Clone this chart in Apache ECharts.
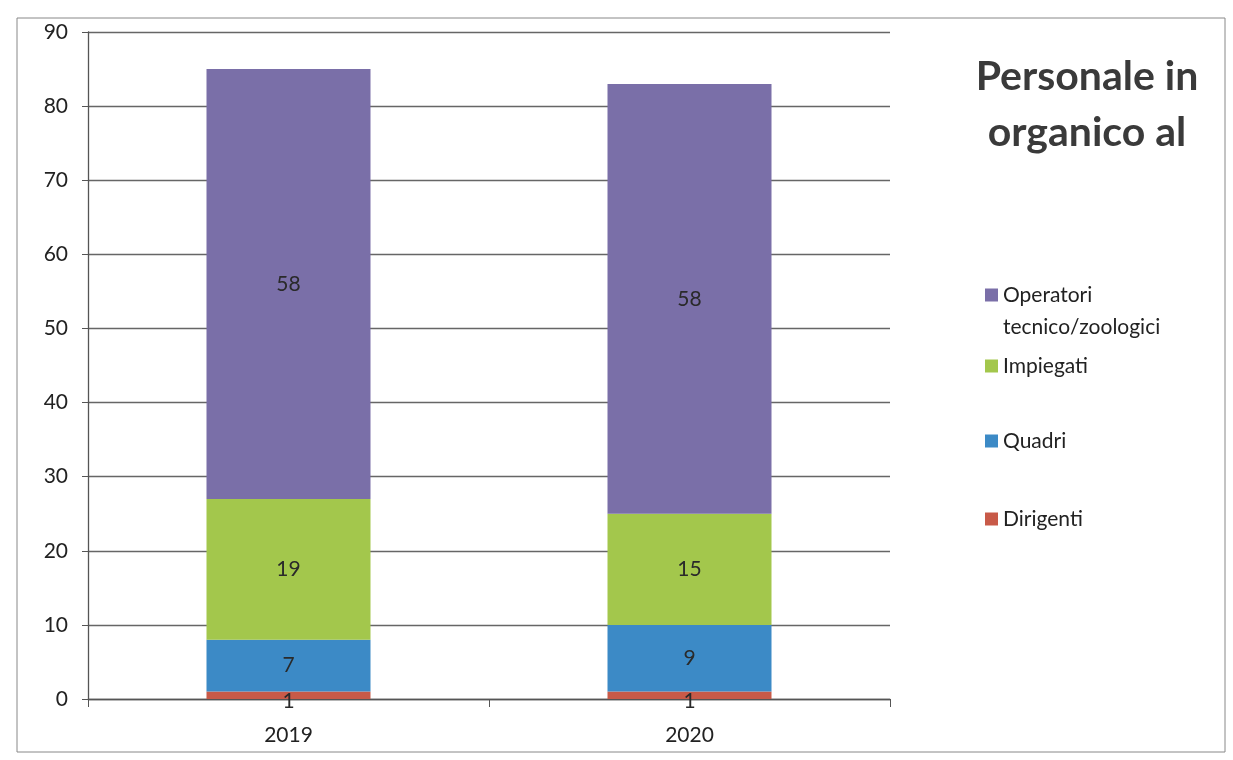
<!DOCTYPE html>
<html>
<head>
<meta charset="utf-8">
<script src="https://cdn.jsdelivr.net/npm/echarts@6/dist/echarts.min.js"></script>
<style>html,body{margin:0;padding:0;background:#fff}#c{width:1233px;height:760px}</style>
</head>
<body>
<div id="c"></div>
<script>
const categories = ['2019', '2020'];
const dirigenti = [1, 1];
const quadri = [7, 9];
const impiegati = [19, 15];
const operatori = [58, 58];
const yTicks = [0, 10, 20, 30, 40, 50, 60, 70, 80, 90];

const FONT = 'Lato, "Open Sans", sans-serif';
const chart = echarts.init(document.getElementById('c'));
const lbl = (extra) => Object.assign({show: true, position: 'inside', color: '#2a2a2a', fontSize: 21, fontFamily: FONT}, extra || {});
const mk = (name, data, color, label) => ({
  name, type: 'bar', stack: 'tot', data, barWidth: 164,
  itemStyle: {color}, label: label || lbl(), emphasis: {disabled: true}
});
const legendItem = (name, top, fmt) => ({
  data: [name], orient: 'vertical', left: 980, top,
  icon: 'rect', itemWidth: 13, itemHeight: 13, itemGap: 0,
  formatter: fmt || '{name}',
  textStyle: {fontSize: 21, color: '#222', fontFamily: FONT, lineHeight: 32}
});
chart.setOption({
  animation: false,
  title: {
    text: 'Personale in\norganico al', left: 1082, top: 44, textAlign: 'center',
    textStyle: {fontSize: 41, fontWeight: 'bold', color: '#3a3a3a', fontFamily: FONT, lineHeight: 56}
  },
  legend: [
    legendItem('Operatori\ntecnico/zoologici', 242, (n) => '\u00a0\n' + n),
    legendItem('Impiegati', 345),
    legendItem('Quadri', 420),
    legendItem('Dirigenti', 498)
  ],
  grid: {left: 88, right: 343, top: 32, bottom: 61},
  xAxis: {
    type: 'category', data: categories,
    axisLine: {lineStyle: {color: '#555', width: 1.3}},
    axisTick: {show: true, length: 8, lineStyle: {color: '#555'}},
    axisLabel: {fontSize: 21, color: '#222', fontFamily: FONT, margin: 26}
  },
  yAxis: {
    type: 'value', min: yTicks[0], max: yTicks[yTicks.length - 1], interval: 10,
    axisLine: {show: true, lineStyle: {color: '#555', width: 1.3}},
    axisTick: {show: true, length: 6, lineStyle: {color: '#555'}},
    axisLabel: {fontSize: 21, color: '#222', fontFamily: FONT, margin: 20},
    splitLine: {lineStyle: {color: '#666', width: 1.3}}
  },
  graphic: [{
    type: 'rect', shape: {x: 17, y: 18, width: 1208, height: 734},
    style: {fill: 'none', stroke: '#888', lineWidth: 1}, silent: true, z: -1
  }],
  series: [
    mk('Dirigenti', dirigenti, '#c85a48', lbl({offset: [0, 6]})),
    mk('Quadri', quadri, '#3c8ac6'),
    mk('Impiegati', impiegati, '#a3c74c'),
    mk('Operatori\ntecnico/zoologici', operatori, '#7a6fa8')
  ]
});
</script>
</body>
</html>
